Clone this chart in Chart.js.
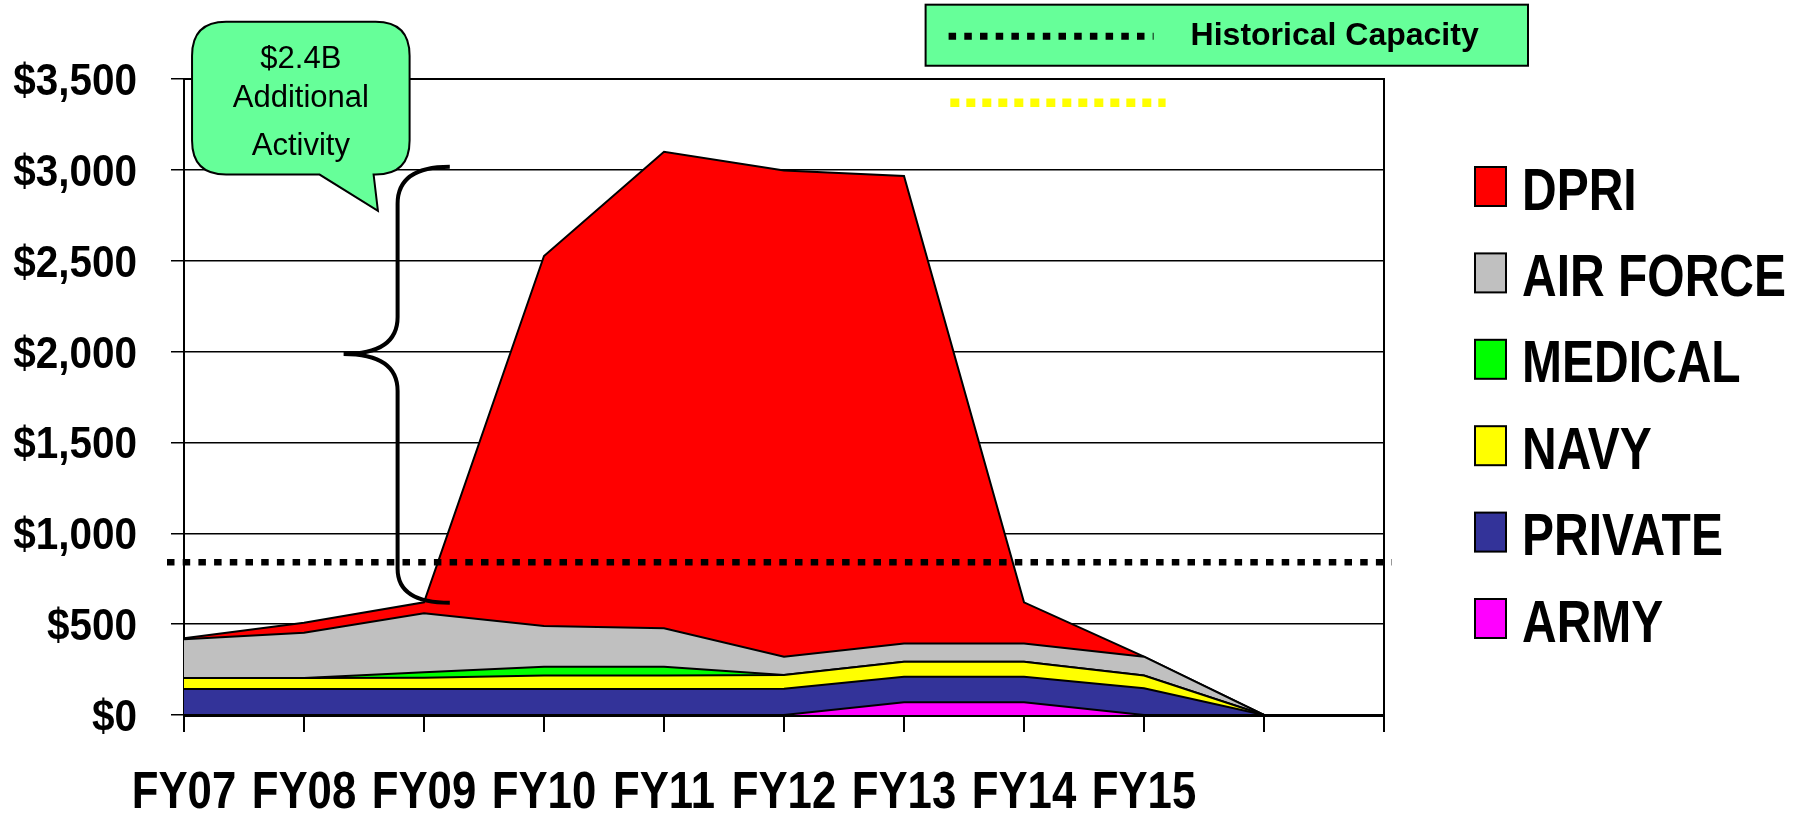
<!DOCTYPE html>
<html>
<head>
<meta charset="utf-8">
<script src="https://cdn.jsdelivr.net/npm/chart.js@4.4.0/dist/chart.umd.min.js"></script>
<style>
  html, body { margin: 0; padding: 0; background: #fff; overflow: hidden; }
</style>
</head>
<body>
<canvas id="chart" width="1807" height="813"></canvas>
<script>
// categories (two unlabeled slots at the end, as in the original)
const years = ["FY07", "FY08", "FY09", "FY10", "FY11", "FY12", "FY13", "FY14", "FY15", "", ""];

// series values, $M, stacked bottom -> top
const army     = [0, 0, 0, 0, 0, 0, 70, 70, 0, 0, 0];
const privateS = [143, 143, 143, 143, 143, 145, 141, 141, 147, 0, 0];
const navy     = [60, 60, 62, 75, 75, 75, 82, 82, 70, 0, 0];
const medical  = [0, 0, 30, 48, 48, 0, 0, 0, 0, 0, 0];
const airForce = [214, 250, 325, 224, 211, 101, 101, 101, 104, 0, 0];
const dpri     = [5, 55, 60, 2036, 2623, 2676, 2572, 226, 0, 0, 0];

const historicalCapacity = 840;
const calloutLines = ["$2.4B", "Additional", "Activity"];

const ARIAL = "'Liberation Sans', Arial, sans-serif";

const area = (label, data, color, fill) => ({
  label: label,
  data: data,
  backgroundColor: color,
  borderColor: "#000",
  borderWidth: 2,
  fill: fill,
  pointRadius: 0,
  tension: 0,
});

// condensed bold text (the original uses a narrow face that isn't installed)
function narrowText(ctx, text, x, y, align, size, sx) {
  ctx.save();
  ctx.translate(x, y);
  ctx.scale(sx, 1);
  ctx.font = "bold " + size + "px " + ARIAL;
  ctx.textAlign = align;
  ctx.textBaseline = "alphabetic";
  ctx.fillText(text, 0, 0);
  ctx.restore();
}

const overlay = {
  id: "overlay",
  afterDatasetsDraw(chart) {
    const { ctx, chartArea: a, scales: { x, y } } = chart;
    const px = (i) => x.getPixelForValue(i);
    const py = (v) => y.getPixelForValue(v);
    ctx.save();

    // plot frame (top + right)
    ctx.strokeStyle = "#000";
    ctx.lineWidth = 2;
    ctx.beginPath();
    ctx.moveTo(a.left, a.top);
    ctx.lineTo(a.right, a.top);
    ctx.lineTo(a.right, a.bottom);
    ctx.stroke();

    // historical capacity line
    const hy = py(historicalCapacity);
    ctx.setLineDash([7.5, 8.2]);
    ctx.lineWidth = 6.5;
    ctx.beginPath();
    ctx.moveTo(a.left - 17, hy);
    ctx.lineTo(a.right + 8, hy);
    ctx.stroke();

    // stray yellow dotted line near the top
    ctx.strokeStyle = "#FFFF00";
    ctx.lineWidth = 8.5;
    ctx.setLineDash([9, 7]);
    ctx.beginPath();
    ctx.moveTo(px(6.386), py(3369));
    ctx.lineTo(px(8.18), py(3369));
    ctx.stroke();
    ctx.setLineDash([]);

    // brace from FY09 total up to ~$3,000
    const xs = px(1.78), xe = px(2.215), xt = px(1.33);
    const yt = py(3017), ym = py(1987), yb = py(618);
    ctx.strokeStyle = "#000";
    ctx.lineWidth = 4;
    ctx.beginPath();
    ctx.moveTo(xe, yt);
    ctx.quadraticCurveTo(xs, yt, xs, yt + 37);
    ctx.lineTo(xs, ym - 37);
    ctx.quadraticCurveTo(xs, ym, xt, ym);
    ctx.moveTo(xt, ym);
    ctx.quadraticCurveTo(xs, ym, xs, ym + 37);
    ctx.lineTo(xs, yb - 34);
    ctx.quadraticCurveTo(xs, yb, xe, yb);
    ctx.stroke();

    // callout bubble
    const bx0 = px(0.067), bx1 = px(1.88), by0 = py(3815), by1 = py(2974);
    const r = 34;
    ctx.beginPath();
    ctx.moveTo(bx0 + r, by0);
    ctx.lineTo(bx1 - r, by0);
    ctx.quadraticCurveTo(bx1, by0, bx1, by0 + r);
    ctx.lineTo(bx1, by1 - r);
    ctx.quadraticCurveTo(bx1, by1, bx1 - r, by1);
    ctx.lineTo(px(1.58), by1);
    ctx.lineTo(px(1.616), py(2774));
    ctx.lineTo(px(1.13), by1);
    ctx.lineTo(bx0 + r, by1);
    ctx.quadraticCurveTo(bx0, by1, bx0, by1 - r);
    ctx.lineTo(bx0, by0 + r);
    ctx.quadraticCurveTo(bx0, by0, bx0 + r, by0);
    ctx.closePath();
    ctx.fillStyle = "#66FF99";
    ctx.fill();
    ctx.lineWidth = 2;
    ctx.stroke();
    ctx.fillStyle = "#000";
    ctx.font = "31px " + ARIAL;
    ctx.textAlign = "center";
    ctx.textBaseline = "alphabetic";
    const cx = (bx0 + bx1) / 2;
    [46.6, 85, 133.3].forEach((dy, i) => ctx.fillText(calloutLines[i], cx, by0 + dy));

    // "Historical Capacity" key box
    const kx0 = px(6.18), kx1 = px(11.2), ky0 = py(3909), ky1 = py(3573);
    ctx.fillStyle = "#66FF99";
    ctx.fillRect(kx0, ky0, kx1 - kx0, ky1 - ky0);
    ctx.strokeRect(kx0, ky0, kx1 - kx0, ky1 - ky0);
    const ky = (ky0 + ky1) / 2 + 1;
    ctx.setLineDash([7.5, 8.2]);
    ctx.lineWidth = 7;
    ctx.beginPath();
    ctx.moveTo(kx0 + 23, ky);
    ctx.lineTo(kx0 + 228, ky);
    ctx.stroke();
    ctx.setLineDash([]);
    ctx.fillStyle = "#000";
    ctx.font = "bold 32px " + ARIAL;
    ctx.textAlign = "left";
    ctx.textBaseline = "middle";
    ctx.fillText("Historical Capacity", kx0 + 265, ky);

    // value labels left of the axis
    ctx.fillStyle = "#000";
    y.ticks.forEach((t) => {
      narrowText(ctx, "$" + t.value.toLocaleString("en-US"), a.left - 47, py(t.value) + 16, "right", 44, 0.92);
    });

    // category labels under the tick marks
    chart.data.labels.forEach((lab, i) => {
      if (lab) narrowText(ctx, lab, x.getPixelForTick(i), x.top + 93, "center", 52, 0.84);
    });

    // series legend, top item = top of stack
    const items = chart.data.datasets.slice().reverse();
    items.forEach((ds, i) => {
      const top = a.top + 88 + i * 86.4;
      const lx = a.right + 91;
      ctx.fillStyle = ds.backgroundColor;
      ctx.fillRect(lx, top, 31, 39);
      ctx.lineWidth = 2;
      ctx.strokeStyle = "#000";
      ctx.strokeRect(lx, top, 31, 39);
      ctx.fillStyle = "#000";
      narrowText(ctx, ds.label, lx + 47, top + 42.5, "left", 60, 0.8);
    });

    ctx.restore();
  },
};

new Chart(document.getElementById("chart"), {
  type: "line",
  data: {
    labels: years,
    datasets: [
      area("ARMY", army, "#FF00FF", "origin"),
      area("PRIVATE", privateS, "#333399", "-1"),
      area("NAVY", navy, "#FFFF00", "-1"),
      area("MEDICAL", medical, "#00FF00", "-1"),
      area("AIR FORCE", airForce, "#C0C0C0", "-1"),
      area("DPRI", dpri, "#FF0000", "-1"),
    ],
  },
  options: {
    responsive: false,
    animation: false,
    layout: { padding: { top: 79, right: 423, left: 0, bottom: 0 } },
    plugins: {
      legend: { display: false },
      tooltip: { enabled: false },
    },
    scales: {
      x: {
        offset: false,
        grid: { drawOnChartArea: false, drawTicks: true, tickLength: 17, color: "#000", lineWidth: 2 },
        border: { color: "#000", width: 3 },
        ticks: { display: false, autoSkip: false, maxRotation: 0 },
        afterFit: (s) => { s.height = 98; },
      },
      y: {
        stacked: true,
        min: 0,
        max: 3500,
        ticks: { display: false, stepSize: 500 },
        grid: { color: "#000", lineWidth: 1.5, tickLength: 13 },
        border: { color: "#000", width: 2 },
        afterFit: (s) => { s.width = 184; },
      },
    },
  },
  plugins: [overlay],
});
</script>
</body>
</html>
